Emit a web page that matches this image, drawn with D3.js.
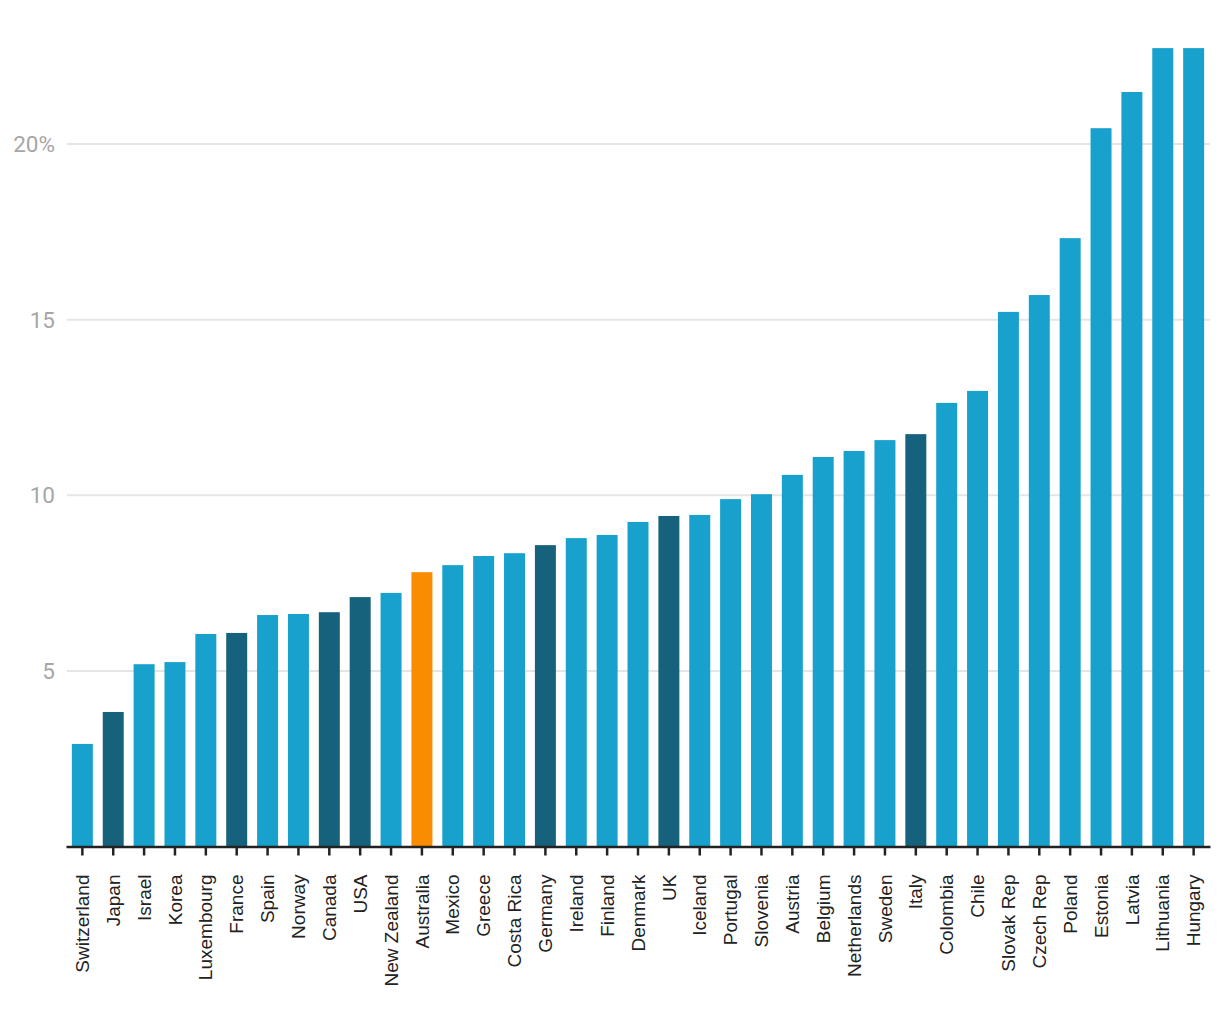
<!DOCTYPE html>
<html><head><meta charset="utf-8">
<script src="https://cdn.jsdelivr.net/npm/d3@7"></script>
<style>
body{margin:0;background:#fff;}
svg{display:block;font-family:Roboto,"Noto Sans",sans-serif;}
</style></head>
<body>
<div id="chart"></div>
<script>
const categories = ["Switzerland","Japan","Israel","Korea","Luxembourg","France","Spain","Norway","Canada","USA","New Zealand","Australia","Mexico","Greece","Costa Rica","Germany","Ireland","Finland","Denmark","UK","Iceland","Portugal","Slovenia","Austria","Belgium","Netherlands","Sweden","Italy","Colombia","Chile","Slovak Rep","Czech Rep","Poland","Estonia","Latvia","Lithuania","Hungary"];
const values = [2.92,3.83,5.19,5.25,6.05,6.08,6.59,6.62,6.67,7.10,7.22,7.81,8.01,8.27,8.35,8.58,8.78,8.87,9.24,9.41,9.44,9.89,10.03,10.58,11.09,11.26,11.57,11.74,12.63,12.97,15.22,15.70,17.32,20.45,21.48,22.73,22.73];
const highlightDark = ["Japan","France","Canada","USA","Germany","UK","Italy"];
const highlightOrange = ["Australia"];
const yTicks = [5,10,15,20];
const yTickLabels = ["5","10","15","20%"];

const W = 1220, H = 1020;
const svg = d3.select("#chart").append("svg").attr("width", W).attr("height", H);

const x = d3.scaleBand().domain(categories).range([66, 1210]).paddingInner(0.32).paddingOuter(0.19);
const y = d3.scaleLinear().domain([0, 20]).range([846.5, 144]);

// gridlines
svg.append("g").selectAll("line").data(yTicks).join("line")
  .attr("x1", 67).attr("x2", 1210)
  .attr("y1", d => y(d)).attr("y2", d => y(d))
  .attr("stroke", "#e5e5e5").attr("stroke-width", 2);

// y labels
svg.append("g").selectAll("text").data(yTicks).join("text")
  .attr("x", 55).attr("y", d => y(d)).attr("dy", "0.35em")
  .attr("text-anchor", "end").attr("fill", "#a6a6a6").attr("font-size", 22.5)
  .text((d, i) => yTickLabels[i]);

// bars
svg.append("g").selectAll("rect").data(categories).join("rect")
  .attr("x", d => x(d)).attr("width", x.bandwidth())
  .attr("y", (d, i) => y(values[i])).attr("height", (d, i) => y(0) - y(values[i]))
  .attr("fill", d => highlightOrange.includes(d) ? "#f98c00" : highlightDark.includes(d) ? "#16627d" : "#18a1cd");

// x axis
const xAxis = d3.axisBottom(x).tickSize(9).tickSizeOuter(0);
const gx = svg.append("g").attr("transform", `translate(0,${y(0)})`).call(xAxis);
gx.select(".domain").attr("stroke", "#222").attr("stroke-width", 2.5);
gx.selectAll(".tick line").attr("stroke", "#222").attr("stroke-width", 2.5);
gx.selectAll(".tick text")
  .attr("font-family", "'Liberation Sans', Arial, sans-serif").attr("font-size", 19).attr("fill", "#222")
  .attr("transform", "rotate(-90)")
  .attr("text-anchor", "end")
  .attr("x", -28).attr("y", 0).attr("dy", "0.35em");
</script>
</body></html>
